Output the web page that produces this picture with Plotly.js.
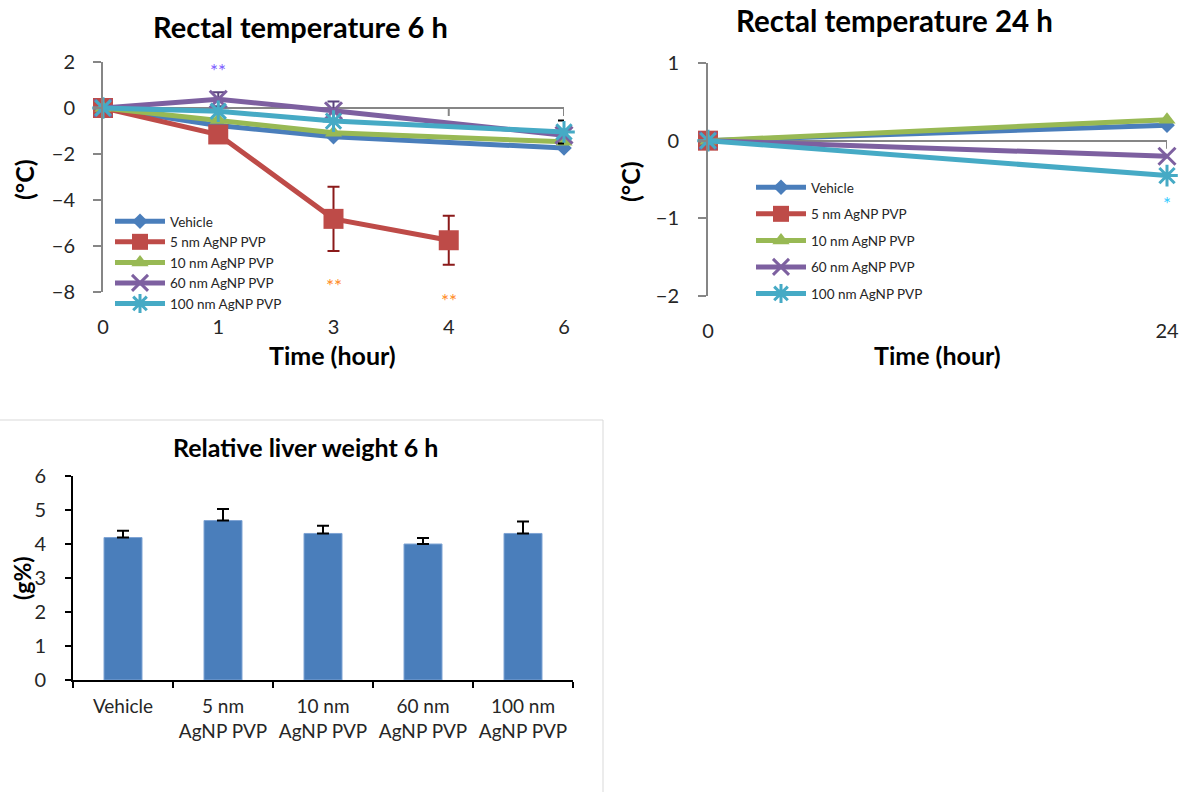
<!DOCTYPE html>
<html><head><meta charset="utf-8">
<script src="https://cdn.plot.ly/plotly-3.0.1.min.js"></script>
<style>html,body{margin:0;padding:0;background:#fff}#chart{width:1194px;height:792px}</style>
</head><body><div id="chart"></div><script>
// ---------- data ----------
const seriesNames = ['Vehicle','5 nm AgNP PVP','10 nm AgNP PVP','60 nm AgNP PVP','100 nm AgNP PVP'];

const timeLabels6 = ['0','1','3','4','6'];
const vehicle6  = [0, -0.76, -1.25, null, -1.74];
const ag5nm6    = [0, -1.15, -4.82, -5.75, null];
const ag10nm6   = [0, -0.52, -1.08, null, -1.47];
const ag60nm6   = [0, 0.38, -0.12, null, -1.18];
const ag100nm6  = [0, -0.14, -0.57, null, -1.04];
const ag5nm6Err   = [0, 0, 1.4, 1.07, null];
const ag60nm6Err  = [0, 0.3, 0.4, null, 0];
const ag100nm6Err = [0, 0, 0, null, 0.5];
const sigCats6 = ['1','3','4'];
const sigY6    = [1.65, -7.7, -8.35];
const sigText6 = ['**','**','**'];

const timeLabels24 = ['0','24'];
const vehicle24 = [0, 0.2];
const ag5nm24   = [0, null];
const ag10nm24  = [0, 0.27];
const ag60nm24  = [0, -0.2];
const ag100nm24 = [0, -0.45];
const sigCats24 = ['24'];
const sigY24    = [-0.81];
const sigText24 = ['*'];

const liverCats = ['Vehicle','5 nm<br>AgNP PVP','10 nm<br>AgNP PVP','60 nm<br>AgNP PVP','100 nm<br>AgNP PVP'];
const liverMean = [4.19, 4.69, 4.31, 4.0, 4.31];
const liverSD   = [0.2, 0.34, 0.23, 0.18, 0.35];

// ---------- styles ----------
const FONT = 'Lato, Carlito, Calibri, "Open Sans", sans-serif';
const TXT = '#262626';
const colors = ['#4A7EBB','#BE4B48','#98B954','#7D60A0','#46AAC5'];
const symbols = ['diamond','square','triangle-up','x-thin-open','asterisk-open'];
const sizes = [12, 20, 15, 17, 18];
const W = 1194, H = 792;
const px = v => v / W, py = v => 1 - v / H;
const range6 = [-8, 2], range24 = [-2, 1];
const dom6 = [292, 62], dom24 = [296, 63];   // pixel bottom/top of the line-chart plot areas

function lineTrace(name, i, x, y, xa, ya, leg, err, errColor) {
  const t = {
    type: 'scatter', mode: 'lines+markers', name: name, x: x, y: y,
    xaxis: xa, yaxis: ya, legend: leg, legendgroup: leg + i,
    connectgaps: true, cliponaxis: false,
    line: {color: colors[i], width: 5},
    marker: {symbol: symbols[i], size: sizes[i], color: colors[i],
             line: {color: colors[i], width: (i >= 3 ? 3 : 0)}}
  };
  if (err) t.error_y = {type: 'data', array: err, visible: true, color: errColor, thickness: 2, width: 6};
  return t;
}

const s6 = [vehicle6, ag5nm6, ag10nm6, ag60nm6, ag100nm6];
const e6 = [null, ag5nm6Err, null, ag60nm6Err, ag100nm6Err];
const e6c = [null, '#8B1A1A', null, '#5B447E', '#000000'];
const s24 = [vehicle24, ag5nm24, ag10nm24, ag60nm24, ag100nm24];

const traces = [];
s6.forEach((s, i) => traces.push(lineTrace(seriesNames[i], i, timeLabels6, s, 'x', 'y', 'legend', e6[i], e6c[i])));
s24.forEach((s, i) => traces.push(lineTrace(seriesNames[i], i, timeLabels24, s, 'x2', 'y2', 'legend2', null, null)));
traces.push({
  type: 'bar', x: liverCats, y: liverMean, xaxis: 'x3', yaxis: 'y3', showlegend: false,
  marker: {color: '#4A7EBB', line: {color: '#7FA4D4', width: 1}},
  error_y: {type: 'data', symmetric: false, array: liverSD, arrayminus: liverSD.map(() => 0),
            color: '#000', thickness: 2, width: 6}
});

const tickFont = {family: FONT, size: 20, color: TXT};
const grayAxis = {showline: true, linecolor: '#868686', linewidth: 2, ticks: 'outside', ticklen: 8,
                  tickwidth: 2, tickcolor: '#868686', showgrid: false, tickfont: tickFont};

// 8-px ticks hanging below the zero line (the category axis line of the line charts)
const TICK = 8;
const tick6 = TICK * (range6[1] - range6[0]) / (dom6[0] - dom6[1]);
const tick24 = TICK * (range24[1] - range24[0]) / (dom24[0] - dom24[1]);
const shapes = [];
timeLabels6.forEach((_, i) => shapes.push({type: 'line', xref: 'x', yref: 'y', x0: i, x1: i,
  y0: 0, y1: -tick6, line: {color: '#868686', width: 2}, layer: 'below'}));
timeLabels24.forEach((_, i) => shapes.push({type: 'line', xref: 'x2', yref: 'y2', x0: i, x1: i,
  y0: 0, y1: -tick24, line: {color: '#868686', width: 2}, layer: 'below'}));
// chart-area border of the bar chart
shapes.push({type: 'line', xref: 'paper', yref: 'paper', x0: px(-2), x1: px(603), y0: py(420), y1: py(420), line: {color: '#D9D9D9', width: 1}});
shapes.push({type: 'line', xref: 'paper', yref: 'paper', x0: px(603), x1: px(603), y0: py(420), y1: py(795), line: {color: '#D9D9D9', width: 1}});

const ann = [];
function txt(text, x, y, size, opts) {
  ann.push(Object.assign({text: text, xref: 'paper', yref: 'paper', x: px(x), y: py(y),
    showarrow: false, xanchor: 'center', yanchor: 'middle',
    font: {family: FONT, size: size, color: '#000'}}, opts || {}));
}
txt('<b>Rectal temperature 6 h</b>', 300, 26, 29);
txt('<b>Rectal temperature 24 h</b>', 894, 20, 29.5);
txt('<b>Relative liver weight 6 h</b>', 305, 447, 25);
txt('<b>Time (hour)</b>', 332, 355, 25);
txt('<b>Time (hour)</b>', 937, 355, 25);
txt('<b>(°C)</b>', 24, 180, 25, {textangle: -90});
txt('<b>(°C)</b>', 630, 182, 25, {textangle: -90});
txt('<b>(g%)</b>', 22, 578, 23, {textangle: -90});

// significance marks, placed via axis-domain fractions so they may sit outside the value range
const sigColors6 = ['#7B5CFF', '#FF8A1E', '#FF8A1E'];
sigCats6.forEach((c, k) => ann.push({text: sigText6[k], xref: 'x domain', yref: 'y domain',
  x: timeLabels6.indexOf(c) / (timeLabels6.length - 1), y: (sigY6[k] - range6[0]) / (range6[1] - range6[0]),
  xanchor: 'center', yanchor: 'middle',
  showarrow: false, font: {family: FONT, size: 19, color: sigColors6[k]}}));
sigCats24.forEach((c, k) => ann.push({text: sigText24[k], xref: 'x2 domain', yref: 'y2 domain',
  x: timeLabels24.indexOf(c) / (timeLabels24.length - 1), y: (sigY24[k] - range24[0]) / (range24[1] - range24[0]),
  xanchor: 'center', yanchor: 'middle',
  showarrow: false, font: {family: FONT, size: 19, color: '#33CCFF'}}));

const legendBase = {bgcolor: 'rgba(0,0,0,0)', font: {family: FONT, size: 13.5, color: TXT},
  xanchor: 'left', yanchor: 'top', itemwidth: 50, traceorder: 'grouped', itemclick: false};

const layout = {
  width: W, height: H, margin: {l: 0, r: 0, t: 0, b: 0},
  paper_bgcolor: '#fff', plot_bgcolor: 'rgba(0,0,0,0)', font: {family: FONT, color: TXT},
  xaxis: {domain: [px(103), px(564)], type: 'category', range: [0, timeLabels6.length - 1],
          showline: false, ticks: '', showgrid: false, zeroline: false, tickfont: tickFont, ticklabelstandoff: 21},
  yaxis: Object.assign({}, grayAxis, {domain: [py(dom6[0]), py(dom6[1])], range: range6, dtick: 2,
          zeroline: true, zerolinecolor: '#868686', zerolinewidth: 2, ticklabelstandoff: 14}),
  xaxis2: {domain: [px(708), px(1167)], type: 'category', range: [0, timeLabels24.length - 1], anchor: 'y2',
          showline: false, ticks: '', showgrid: false, zeroline: false, tickfont: tickFont, ticklabelstandoff: 21},
  yaxis2: Object.assign({}, grayAxis, {domain: [py(dom24[0]), py(dom24[1])], range: range24, dtick: 1, anchor: 'x2',
          zeroline: true, zerolinecolor: '#868686', zerolinewidth: 2, ticklabelstandoff: 15}),
  xaxis3: {domain: [px(73), px(573)], type: 'category', anchor: 'y3', showline: true, linecolor: '#000', linewidth: 2,
          ticks: 'outside', tickson: 'boundaries', ticklen: 6, tickwidth: 2, tickcolor: '#000', showgrid: false,
          tickfont: {family: FONT, size: 19, color: TXT}, ticklabelstandoff: 8},
  yaxis3: {domain: [py(680), py(476)], range: [0, 6], dtick: 1, anchor: 'x3', showline: true, linecolor: '#000',
          linewidth: 2, ticks: 'outside', ticklen: 6, tickwidth: 2, tickcolor: '#000', showgrid: false,
          zeroline: false, tickfont: {family: FONT, size: 20, color: TXT}, ticklabelstandoff: 15},
  bargap: 0.62,
  legend: Object.assign({}, legendBase, {x: px(110), y: py(206), tracegroupgap: 0}),
  legend2: Object.assign({}, legendBase, {x: px(751), y: py(172), tracegroupgap: 6}),
  shapes: shapes, annotations: ann
};

Plotly.newPlot('chart', traces, layout, {displayModeBar: false, staticPlot: true});
</script></body></html>
